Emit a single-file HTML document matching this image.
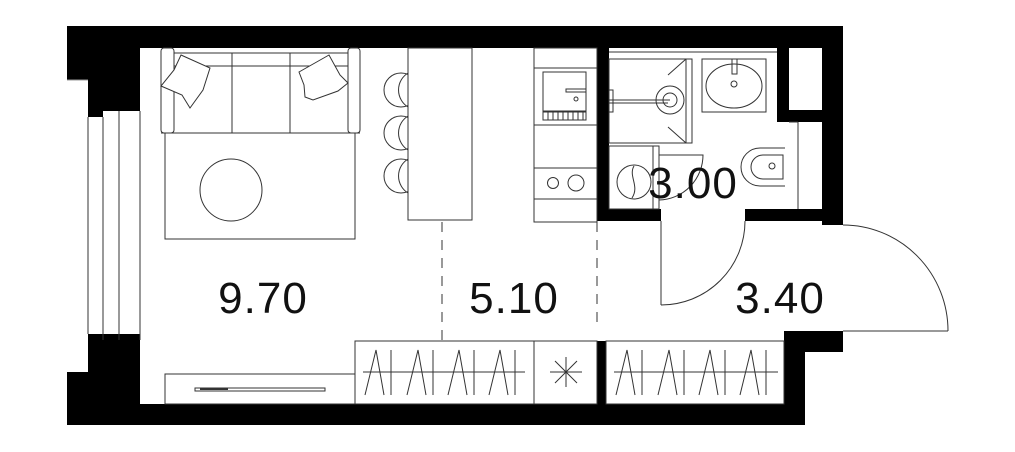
<!DOCTYPE html>
<html><head><meta charset="utf-8"><style>
html,body{margin:0;padding:0;background:#fff;width:1015px;height:452px;overflow:hidden}
svg{display:block}
text{font-family:"Liberation Sans",sans-serif;font-size:44px;fill:#111;letter-spacing:1px}
</style></head><body>
<svg width="1015" height="452" viewBox="0 0 1015 452" xmlns="http://www.w3.org/2000/svg">
<g fill="#000">
<rect x="67" y="26" width="776" height="22"/>
<rect x="67" y="26" width="73" height="54"/>
<rect x="88" y="48" width="52" height="63"/>
<rect x="88" y="111" width="15" height="6"/>
<rect x="822" y="26" width="21" height="199"/>
<rect x="777" y="48" width="12" height="74"/>
<rect x="777" y="110" width="45" height="12"/>
<rect x="597" y="48" width="12" height="173"/>
<rect x="597" y="209" width="64" height="12"/>
<rect x="745" y="209" width="98" height="12"/>
<rect x="822" y="209" width="21" height="16"/>
<rect x="67" y="404" width="738" height="21"/>
<rect x="67" y="372" width="73" height="53"/>
<rect x="88" y="334" width="52" height="91"/>
<rect x="784" y="331" width="59" height="21"/>
<rect x="784" y="331" width="21" height="94"/>
<rect x="597" y="341" width="9" height="63"/>
</g>
<g fill="none" stroke="#333" stroke-width="1">
<line x1="88" y1="117" x2="88" y2="334"/>
<line x1="103" y1="117" x2="103" y2="340"/>
<line x1="119" y1="111" x2="119" y2="340"/>
<line x1="140" y1="111" x2="140" y2="340"/>
<line x1="67" y1="80" x2="88" y2="80" stroke="#999"/>
<rect x="161" y="48" width="13" height="85" rx="3"/>
<rect x="348" y="48" width="12" height="85" rx="3"/>
<line x1="174" y1="53" x2="348" y2="53"/>
<line x1="174" y1="66" x2="348" y2="66"/>
<line x1="161" y1="133" x2="360" y2="133"/>
<line x1="232" y1="53" x2="232" y2="133"/>
<line x1="290" y1="53" x2="290" y2="133"/>
<path d="M181 55 L210 68 L203 90 L190 108 L182 95 L161 86 L174 70 Z" fill="#fff"/>
<path d="M299 72 L329 55 L340 75 L348 83 L338 91 L313 100 L305 97 L304 85 Z" fill="#fff"/>
<rect x="165" y="133" width="190" height="106"/>
<circle cx="231" cy="190" r="31"/>
<circle cx="401" cy="90" r="17"/><circle cx="401" cy="133" r="17"/><circle cx="401" cy="176" r="17"/>
<path d="M408 73 A20 20 0 0 0 408 107"/><path d="M408 116 A20 20 0 0 0 408 150"/><path d="M408 159 A20 20 0 0 0 408 193"/>
<rect x="408" y="48" width="64" height="172" fill="#fff"/>
<rect x="534" y="48" width="63" height="174"/>
<line x1="534" y1="68" x2="597" y2="68"/>
<line x1="534" y1="125" x2="597" y2="125"/>
<line x1="534" y1="168" x2="597" y2="168"/>
<line x1="534" y1="199" x2="597" y2="199"/>
<rect x="543" y="72" width="43" height="39"/>
<rect x="566" y="89" width="20" height="3"/>
<circle cx="576" cy="99" r="2"/>
<rect x="543" y="112" width="43" height="8"/>
<path d="M548 112v8M553 112v8M558 112v8M563 112v8M568 112v8M573 112v8M578 112v8M583 112v8"/>
<circle cx="553" cy="183" r="5.5"/><circle cx="576" cy="183" r="8"/>
<line x1="442" y1="222" x2="442" y2="341" stroke-dasharray="10,8"/>
<line x1="597" y1="222" x2="597" y2="330" stroke-dasharray="10,8"/>
<line x1="609" y1="52" x2="777" y2="52"/>
<rect x="609" y="59" width="83" height="84"/>
<line x1="686" y1="59" x2="686" y2="143"/>
<line x1="668" y1="75" x2="686" y2="59"/><line x1="668" y1="127" x2="686" y2="143"/>
<circle cx="670" cy="100" r="14"/><circle cx="670" cy="100" r="7"/>
<line x1="609" y1="100" x2="670" y2="100"/><line x1="609" y1="103" x2="668" y2="103"/>
<rect x="609" y="90" width="4" height="22"/>
<rect x="702" y="59" width="64" height="53"/>
<ellipse cx="734" cy="86" rx="28" ry="22"/>
<rect x="732" y="59" width="5" height="15"/>
<circle cx="734" cy="84" r="3"/>
<line x1="789" y1="122" x2="798" y2="122"/>
<line x1="798" y1="122" x2="798" y2="209"/>
<path d="M785 148 L760 148 A19 19 0 0 0 760 186 L785 186"/>
<path d="M783 155 L763 155 A12 12 0 0 0 763 179 L783 179 Z"/>
<circle cx="772" cy="166" r="3"/>
<rect x="609" y="146" width="50" height="63"/>
<line x1="653" y1="146" x2="653" y2="209"/>
<circle cx="634" cy="182" r="17"/>
<path d="M634 166 C628 176 640 186 632 198"/>
<path d="M659 155 L703 155 A45 45 0 0 1 659 200"/>
<line x1="661" y1="221" x2="661" y2="305"/>
<path d="M661 305 A84 84 0 0 0 745 221"/>
<line x1="843" y1="331" x2="948" y2="331"/>
<path d="M948 331 A105 106 0 0 0 843 225"/>
<rect x="165" y="374" width="190" height="30"/>
<rect x="195" y="388" width="130" height="3"/>
<line x1="200" y1="389" x2="228" y2="389" stroke-width="2"/>
<rect x="355" y="341" width="179" height="63"/>
<rect x="534" y="341" width="63" height="63"/>
<rect x="606" y="341" width="178" height="63"/>
<line x1="363" y1="372" x2="525" y2="372"/>
<path d="M365 395 L376 350 L384 395 M391 350 L391 395 M407 395 L418 350 L426 395 M433 350 L433 395 M448 395 L459 350 L467 395 M474 350 L474 395 M489 395 L500 350 L508 395 M515 350 L515 395"/>
<line x1="614" y1="372" x2="778" y2="372"/>
<path d="M616 395 L627 350 L635 395 M642 350 L642 395 M658 395 L669 350 L677 395 M684 350 L684 395 M699 395 L710 350 L718 395 M725 350 L725 395 M740 395 L751 350 L759 395 M766 350 L766 395"/>
<path d="M550 372 H582 M566 357 V387 M555 361 L577 383 M577 361 L555 383"/>
</g>
<text x="263" y="313" text-anchor="middle">9.70</text>
<text x="514" y="313" text-anchor="middle">5.10</text>
<text x="780" y="313" text-anchor="middle">3.40</text>
<text x="693" y="198" text-anchor="middle">3.00</text>
</svg>
</body></html>
